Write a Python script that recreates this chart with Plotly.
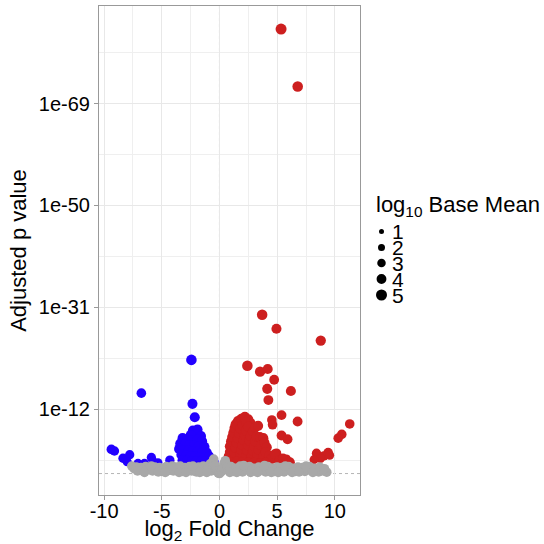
import plotly.graph_objects as go

# ---------------- data ----------------
# significant up-regulated (red)
red_lfc = [5.34, 6.78, 3.70, 4.94, 8.78, 2.42, 3.52, 4.18, 4.74, 4.14, 6.19, 4.24, 5.38, 6.77,
           4.54, 4.60, 5.38, 5.90, 11.29, 10.60, 10.29, 9.42, 8.41, 9.05, 8.75, 9.55, 8.20,
           4.94, 5.80,
           0.7, 0.8, 0.9, 0.9, 1.0, 1.1, 1.2, 1.3, 1.4, 1.6, 1.9, 2.2, 2.5, 2.7,
           1.2, 1.3, 1.4, 1.5, 1.6, 1.7, 1.8, 2.0, 2.3,
           1.7, 1.8, 1.9, 2.0, 2.1, 2.2, 2.3, 2.5,
           2.2, 2.3, 2.4, 2.5, 2.6, 2.7, 2.9, 3.1, 3.35,
           2.7, 2.8, 2.9, 3.0, 3.1, 3.2, 3.5, 3.8,
           3.2, 3.3, 3.4, 3.6, 3.9, 4.1,
           3.7, 3.8, 4.0, 4.3, 4.5, 4.8, 5.2, 5.5, 6.1,
           1.0, 1.5, 2.0, 2.5, 3.0, 3.5, 4.0]
red_padj = [82.9, 72.2, 29.6, 27.0, 24.8, 20.1, 19.0, 19.5, 17.5, 15.8, 15.4, 13.7, 10.9, 9.7,
            10.0, 9.1, 7.1, 6.4, 9.25, 7.3, 6.6, 3.9, 3.8, 3.3, 2.8, 3.4, 2.6,
            3.8, 2.7,
            2.4, 3.2, 4.0, 5.1, 6.0, 6.8, 7.6, 8.5, 9.2, 9.8, 10.2, 10.6, 10.1, 9.4,
            2.8, 3.9, 4.8, 5.7, 6.6, 7.5, 8.4, 9.1, 9.6,
            2.5, 3.5, 4.4, 5.3, 6.2, 7.1, 8.0, 8.7,
            2.6, 3.4, 4.3, 5.2, 6.1, 7.0, 7.9, 8.6, 8.9,
            2.4, 3.3, 4.2, 5.1, 6.0, 6.9, 6.8, 6.6,
            2.5, 3.5, 4.4, 5.3, 5.8, 4.9,
            2.3, 3.2, 4.0, 3.3, 2.7, 3.6, 2.4, 2.8, 2.1,
            2.0, 2.2, 2.1, 2.0, 2.0, 1.9, 2.0]
red_basemean = [5.0, 4.6, 4.6, 4.2, 4.4, 4.6, 4.4, 4.2, 4.0, 4.2, 4.2, 4.0, 4.0, 4.0,
                3.8, 3.8, 4.0, 4.0, 3.8, 3.8, 3.8, 3.8, 3.6, 3.6, 3.4, 3.4, 3.4,
                3.8, 3.6] + [4.2] * 73

# significant down-regulated (blue)
blue_lfc = [-2.43, -6.77, -2.34, -2.14, -9.37, -9.10, -8.36, -7.78, -7.06, -5.90, -5.75,
            -5.33, -4.30, -8.00, -6.50,
            -2.3, -1.9, -2.0, -2.5, -1.6, -3.2, -2.8, -2.4, -1.9, -1.5,
            -3.4, -3.0, -2.6, -2.2, -1.8, -1.3, -3.5, -3.1, -2.7, -2.3, -1.9, -1.5, -1.1,
            -3.3, -2.9, -2.5, -2.1, -1.7, -1.3, -0.9, -3.2, -2.8, -2.4, -2.0, -1.6, -1.2,
            -0.7, -0.5]
blue_padj = [21.2, 15.0, 13.0, 10.5, 4.5, 4.2, 2.85, 3.5, 1.9, 3.0, 2.2,
             2.0, 2.5, 2.2, 1.9,
             8.0, 8.2, 7.3, 7.2, 7.0, 6.6, 6.4, 6.2, 6.3, 6.0,
             5.6, 5.4, 5.3, 5.2, 5.1, 5.0, 4.6, 4.4, 4.3, 4.2, 4.1, 4.0, 3.9,
             3.5, 3.3, 3.2, 3.2, 3.1, 3.0, 3.2, 2.5, 2.4, 2.3, 2.3, 2.2, 2.3,
             2.5, 2.2]
blue_basemean = [4.6, 3.8, 4.2, 4.2, 3.8, 3.6, 3.6, 3.6, 3.4, 3.6, 3.4,
                 3.4, 3.6, 3.4, 3.4] + [4.2] * 38

# not significant (grey)
grey_lfc = [-7.6, -7.4, -7.2, -7.0, -6.8, -6.6, -6.4, -6.2, -6.0, -5.8, -5.6, -5.4, -5.2,
            -5.0, -4.8, -4.6, -4.4, -4.2, -4.0, -3.8, -3.6, -3.4, -3.2, -3.0, -2.8, -2.6,
            -2.4, -2.2, -2.0, -1.8, -1.6, -1.4, -1.2, -1.0, -0.8, -0.7, -0.6, -0.5, -0.4,
            -0.3, -0.2, -0.1, 0.0, 0.1, 0.2, 0.3, 0.4, 0.5, 0.6, 0.7, 0.8, 1.0, 1.2, 1.4,
            1.6, 1.8, 2.0, 2.2, 2.4, 2.6, 2.8, 3.0, 3.2, 3.4, 3.6, 3.8, 4.0, 4.2, 4.4, 4.6,
            4.8, 5.0, 5.2, 5.4, 5.6, 5.8, 6.0, 6.2, 6.4, 6.6, 6.8, 7.0, 7.2, 7.4, 7.6, 7.8,
            8.0, 8.2, 8.4, 8.6, 8.8, 9.0, 9.3,
            -7.1, -6.5, -5.9, -5.3, -4.7, -4.1, -3.5, -2.9, -2.3, -1.7, -1.1, 0.9, 1.5,
            2.1, 2.7, 3.3, 3.9, 4.5, 5.1, 5.7, 6.3, 6.9, 7.5, 8.1, 8.7, 9.1]
grey_padj = [1.4, 0.9, 1.2, 0.7, 1.1, 0.6, 1.3, 0.8, 1.0, 0.5, 1.2, 0.7, 1.1,
             0.4, 0.9, 1.3, 0.6, 1.0, 0.5, 1.2, 0.7, 1.4, 0.4, 1.1, 0.6, 1.3,
             0.5, 1.0, 0.3, 1.2, 0.6, 1.4, 0.4, 1.1, 1.8, 0.5, 2.1, 2.7, 1.6,
             0.9, 0.4, 0.1, 0.0, 0.2, 0.5, 1.1, 1.9, 2.4, 1.7, 1.2, 0.6, 1.3, 0.4, 1.0,
             0.6, 1.4, 0.3, 1.1, 0.7, 1.3, 0.5, 1.0, 0.4, 1.2, 0.6, 1.1, 0.3, 1.3, 0.7, 1.0,
             0.4, 1.2, 0.6, 1.1, 0.3, 0.9, 1.3, 0.5, 1.0, 0.4, 1.2, 0.7, 1.1, 0.4, 0.9, 1.3,
             0.5, 1.0, 0.6, 0.3, 0.9, 0.5, 0.25,
             0.5, 0.2, 1.4, 0.3, 0.2, 1.4, 0.2, 0.2, 1.4, 0.2, 0.2, 0.2, 0.2,
             1.5, 0.2, 0.2, 1.5, 0.2, 0.2, 1.4, 0.2, 0.3, 1.4, 0.2, 1.2, 0.9]
grey_basemean = [3.8] * 119

x_tick_vals = [-10, -5, 0, 5, 10]
x_tick_text = ["-10", "-5", "0", "5", "10"]
y_tick_vals = [12, 31, 50, 69]
y_tick_text = ["1e-12", "1e-31", "1e-50", "1e-69"]
legend_levels = [1, 2, 3, 4, 5]

RED = "#CD1F1F"
BLUE = "#2200FF"
GREY = "#A8A8A8"


def diam(v):
    return (1 + 24 * v) ** 0.5


fig = go.Figure()
for xs, ys, bm, col in [(red_lfc, red_padj, red_basemean, RED),
                        (blue_lfc, blue_padj, blue_basemean, BLUE),
                        (grey_lfc, grey_padj, grey_basemean, GREY)]:
    fig.add_trace(go.Scatter(x=xs, y=ys, mode="markers", showlegend=False,
                             hoverinfo="skip",
                             marker=dict(color=col, size=[diam(v) for v in bm],
                                         line=dict(width=0), opacity=1)))

# reference lines
fig.add_shape(type="line", xref="x", yref="paper", x0=0, x1=0, y0=0, y1=1,
              line=dict(color="#B5B5B5", width=1, dash="dot"), layer="below")
fig.add_shape(type="line", xref="paper", yref="y", x0=0, x1=1, y0=0, y1=0,
              line=dict(color="#B5B5B5", width=1, dash="dot"), layer="below")

# ---------------- manual size legend ----------------
L, B, W, H = 99, 49, 261, 489
H_TOT = 544


def px2x(px):
    return (px - L) / W


def py2y(py):
    return (H_TOT - B - py) / H


fig.add_annotation(xref="paper", yref="paper", x=px2x(374), y=py2y(206),
                   xanchor="left", yanchor="middle", showarrow=False,
                   text="log<sub>10</sub> Base Mean",
                   font=dict(family="Liberation Sans", size=22, color="black"))
row_y = [231.5, 247.5, 263, 279, 295]
for lv, ry in zip(legend_levels, row_y):
    r = diam(lv) / 2
    cx = 381.5
    fig.add_shape(type="circle", xref="paper", yref="paper",
                  x0=px2x(cx - r), x1=px2x(cx + r), y0=py2y(ry + r), y1=py2y(ry - r),
                  fillcolor="black", line=dict(width=0))
    fig.add_annotation(xref="paper", yref="paper", x=px2x(390), y=py2y(ry),
                       xanchor="left", yanchor="middle", showarrow=False,
                       text=str(lv),
                       font=dict(family="Liberation Sans", size=21, color="black"))

fig.update_layout(
    width=544, height=544,
    margin=dict(l=L, r=544 - L - W, t=H_TOT - B - H, b=B),
    paper_bgcolor="white", plot_bgcolor="white",
    font=dict(family="Liberation Sans", color="black"),
    showlegend=False,
)
fig.update_xaxes(
    range=[-10.44, 12.18], tickvals=x_tick_vals, ticktext=x_tick_text,
    ticks="outside", ticklen=4, ticklabelstandoff=-6,
    tickcolor="#999999", tickfont=dict(size=20, color="black"),
    showgrid=True, gridcolor="#E8E8E8", gridwidth=1, zeroline=False,
    minor=dict(tickvals=[-7.5, -2.5, 2.5, 7.5], showgrid=True, gridcolor="#EFEFEF",
               gridwidth=1, ticks=""),
    showline=True, linecolor="#999999", linewidth=1, mirror=True,
    title=dict(text="log<sub>2</sub> Fold Change", font=dict(size=22, color="black"),
               standoff=4),
    automargin=False,
)
fig.update_yaxes(
    range=[-4.0, 87.2], tickvals=y_tick_vals, ticktext=y_tick_text, ticks="outside",
    ticklen=4, tickcolor="#999999", tickfont=dict(size=20, color="black"),
    showgrid=True, gridcolor="#E8E8E8", gridwidth=1, zeroline=False,
    minor=dict(tickvals=[2.5, 21.5, 40.5, 59.5, 78.5], showgrid=True,
               gridcolor="#EFEFEF", gridwidth=1, ticks=""),
    showline=True, linecolor="#999999", linewidth=1, mirror=True,
    title=dict(text="Adjusted p value", font=dict(size=22, color="black"), standoff=6),
    automargin=False,
)

fig.write_html("out.html", config={"displayModeBar": False},
               post_script="document.body.style.margin='0';document.body.style.padding='0';")
